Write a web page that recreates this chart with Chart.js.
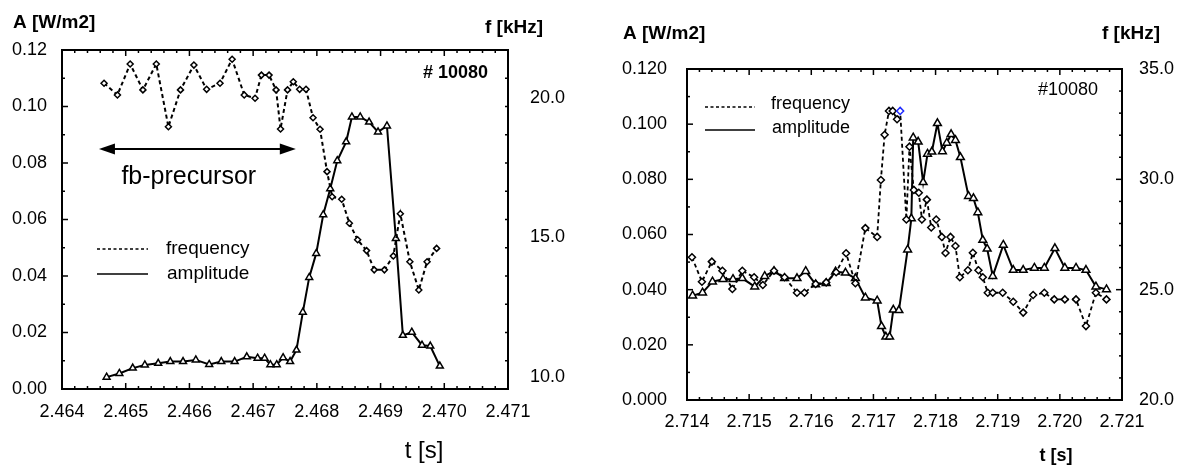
<!DOCTYPE html>
<html>
<head>
<meta charset="utf-8">
<script src="https://cdn.jsdelivr.net/npm/chart.js@4.4.1/dist/chart.umd.min.js"></script>
<style>
    html, body { margin: 0; padding: 0; background: #fff; }
    #wrap { position: relative; width: 1183px; height: 465px; overflow: hidden; }
    .panel { position: absolute; top: 0; height: 465px; }
    #left { left: 0; width: 585px; }
    #right { left: 585px; width: 598px; }
</style>
</head>
<body>
<div id="wrap">
    <div class="panel" id="left"><canvas id="chart-left" width="585" height="465"></canvas></div>
    <div class="panel" id="right"><canvas id="chart-right" width="598" height="465"></canvas></div>
</div>
<script>
/*
/----------------------------------------
/- shot #10080, two time windows
/- left  : fb-precursor, t = 2.464 .. 2.471 s
/- right : t = 2.714 .. 2.721 s
/----------------------------------------
*/

// ---- left window ----
const leftAmpTime = [2.46470, 2.46490, 2.46511, 2.46530, 2.46551, 2.46570, 2.46590, 2.46610, 2.46631, 2.46650,
    2.46671, 2.46690, 2.46707, 2.46718, 2.46727, 2.46737, 2.46747, 2.46758, 2.46768, 2.46778,
    2.46788, 2.46799, 2.46810, 2.46821, 2.46832, 2.46846, 2.46855, 2.46868, 2.46882, 2.46896,
    2.46910, 2.46924, 2.46935, 2.46949, 2.46965, 2.46978, 2.46993];
const leftAmplitude = [0.0042, 0.0055, 0.0074, 0.0085, 0.0091, 0.0097, 0.0097, 0.0103, 0.0087, 0.0097,
    0.0097, 0.0114, 0.0109, 0.0109, 0.0086, 0.0086, 0.0111, 0.0097, 0.0138, 0.0272,
    0.0395, 0.0480, 0.0617, 0.0709, 0.0808, 0.0875, 0.0963, 0.0963, 0.0945, 0.0910,
    0.0931, 0.0533, 0.0190, 0.0201, 0.0155, 0.0152, 0.0081];

const leftFreqTime = [2.46466, 2.46487, 2.46507, 2.46527, 2.46548, 2.46567, 2.46586, 2.46607, 2.46627, 2.46648,
    2.46667, 2.46686, 2.46703, 2.46713, 2.46725, 2.46736, 2.46743, 2.46754, 2.46763, 2.46773,
    2.46783, 2.46794, 2.46805, 2.46816, 2.46824, 2.46839, 2.46851, 2.46864, 2.46878, 2.46890,
    2.46906, 2.46920, 2.46931, 2.46946, 2.46960, 2.46973, 2.46988];
const leftFrequency = [20.53, 20.11, 21.22, 20.29, 21.22, 18.97, 20.29, 21.18, 20.31, 20.53,
    21.39, 20.11, 19.99, 20.82, 20.82, 20.29, 18.89, 20.29, 20.58, 20.31,
    20.31, 19.29, 18.88, 17.36, 16.46, 16.37, 15.51, 14.92, 14.53, 13.84,
    13.84, 14.34, 15.85, 14.13, 13.12, 14.13, 14.61];

const leftFreqTicks = [10, 15, 20];

// ---- right window ----
const rightAmpTime = [2.71409, 2.71425, 2.71441, 2.71458, 2.71474, 2.71489, 2.71509, 2.71525, 2.71540, 2.71557,
    2.71577, 2.71591, 2.71607, 2.71624, 2.71639, 2.71655, 2.71671, 2.71687, 2.71706, 2.71713,
    2.71720, 2.71726, 2.71732, 2.71741, 2.71755, 2.71761, 2.71764, 2.71772, 2.71780, 2.71787,
    2.71794, 2.71803, 2.71811, 2.71818, 2.71825, 2.71832, 2.71840, 2.71853, 2.71861, 2.71868,
    2.71876, 2.71883, 2.71892, 2.71909, 2.71925, 2.71941, 2.71959, 2.71975, 2.71992, 2.72008,
    2.72026, 2.72042, 2.72058, 2.72075];
const rightAmplitude = [0.0378, 0.0389, 0.0429, 0.0438, 0.0438, 0.0441, 0.0411, 0.0449, 0.0467, 0.0441,
    0.0441, 0.0467, 0.0419, 0.0423, 0.0465, 0.0461, 0.0441, 0.0371, 0.0360, 0.0267,
    0.0229, 0.0229, 0.0327, 0.0325, 0.0545, 0.0658, 0.0951, 0.0936, 0.0789, 0.0892,
    0.0900, 0.1003, 0.0901, 0.0932, 0.0963, 0.0942, 0.0880, 0.0739, 0.0731, 0.0680,
    0.0580, 0.0548, 0.0449, 0.0562, 0.0471, 0.0471, 0.0479, 0.0479, 0.0550, 0.0479,
    0.0479, 0.0471, 0.0411, 0.0401];

const rightFreqTime = [2.71408, 2.71424, 2.71440, 2.71457, 2.71473, 2.71489, 2.71508, 2.71522, 2.71540, 2.71557,
    2.71577, 2.71589, 2.71607, 2.71624, 2.71640, 2.71656, 2.71671, 2.71687, 2.71706, 2.71712,
    2.71718, 2.71725, 2.71731, 2.71738, 2.71743, 2.71753, 2.71758, 2.71765, 2.71773, 2.71778,
    2.71786, 2.71793, 2.71801, 2.71810, 2.71816, 2.71824, 2.71832, 2.71839, 2.71852, 2.71860,
    2.71869, 2.71876, 2.71884, 2.71892, 2.71908, 2.71925, 2.71941, 2.71957, 2.71975, 2.71991,
    2.72008, 2.72026, 2.72042, 2.72058, 2.72075];
const rightFrequency = [26.47, 25.36, 26.27, 25.86, 25.03, 25.86, 25.56, 25.21, 25.86, 25.56,
    24.86, 24.86, 25.26, 25.33, 25.79, 26.65, 25.29, 27.79, 27.39, 29.97,
    32.02, 33.10, 33.10, 32.72, 33.10, 28.18, 31.48, 29.52, 29.39, 28.18,
    29.08, 27.82, 28.18, 27.39, 26.66, 27.39, 26.98, 25.56, 25.88, 26.67,
    25.88, 25.56, 24.86, 24.86, 24.86, 24.45, 23.96, 24.76, 24.86, 24.56,
    24.56, 24.56, 23.35, 24.86, 24.56];
const rightMarkedPoint = 24; // the one blue diamond

const FONT = "'Liberation Sans', Arial, sans-serif";

const toPoints = (xs, ys) => xs.map((x, i) => ({ x, y: ys[i] }));

// tick marks pointing into the plot + frame + texts
function drawEdgeTicks(ctx, chart, spec) {
    const scale = chart.scales[spec.scale];
    const area = chart.chartArea;
    const n0 = Math.ceil(scale.min / spec.minor - 1e-6);
    const n1 = Math.floor(scale.max / spec.minor + 1e-6);
    for (let n = n0; n <= n1; n++) {
        const len = spec.every && n % spec.every === 0 ? 6 : 3;
        const p = scale.getPixelForValue(n * spec.minor);
        ctx.beginPath();
        if (spec.edge === "bottom") { ctx.moveTo(p, area.bottom); ctx.lineTo(p, area.bottom - len); }
        if (spec.edge === "top") { ctx.moveTo(p, area.top); ctx.lineTo(p, area.top + len); }
        if (spec.edge === "left") { ctx.moveTo(area.left, p); ctx.lineTo(area.left + len, p); }
        if (spec.edge === "right") { ctx.moveTo(area.right, p); ctx.lineTo(area.right - len, p); }
        ctx.stroke();
    }
}

function text(ctx, str, x, y, font, align) {
    ctx.font = font;
    ctx.textAlign = align || "left";
    ctx.textBaseline = "middle";
    ctx.fillText(str, x, y);
}

function legendLine(ctx, x1, x2, y, dash) {
    ctx.save();
    ctx.lineWidth = 1.5;
    ctx.setLineDash(dash);
    ctx.beginPath();
    ctx.moveTo(x1, y);
    ctx.lineTo(x2, y);
    ctx.stroke();
    ctx.restore();
}

function makeDecor(opts) {
    return {
        id: "decor",
        afterDraw(chart) {
            const ctx = chart.ctx;
            const area = chart.chartArea;
            ctx.save();
            ctx.strokeStyle = "#000";
            ctx.fillStyle = "#000";
            ctx.lineWidth = 1.5;
            opts.ticks.forEach((spec) => drawEdgeTicks(ctx, chart, spec));
            ctx.lineWidth = 2;
            ctx.strokeRect(area.left, area.top, area.right - area.left, area.bottom - area.top);
            opts.draw(ctx, chart);
            ctx.restore();
        },
    };
}

function baseOptions(cfg) {
    const tickFont = { family: FONT, size: 18 };
    return {
        responsive: false,
        animation: false,
        events: [],
        layout: { padding: { top: cfg.top, left: 0, right: 0, bottom: 0 } },
        plugins: { legend: { display: false }, tooltip: { enabled: false } },
        scales: {
            x: {
                type: "linear",
                position: "bottom",
                min: cfg.xMin,
                max: cfg.xMax,
                grid: { display: false },
                border: { display: false },
                ticks: {
                    stepSize: 0.001,
                    autoSkip: false,
                    maxRotation: 0,
                    padding: cfg.xPad,
                    color: "#000",
                    font: tickFont,
                    callback: (v) => v.toFixed(3),
                },
                afterFit: (s) => { s.height = cfg.xHeight; },
            },
            y: {
                position: "left",
                min: 0,
                max: 0.12,
                grid: { display: false },
                border: { display: false },
                ticks: {
                    stepSize: 0.02,
                    padding: cfg.yPad,
                    color: "#000",
                    font: tickFont,
                    callback: (v) => v.toFixed(cfg.yDigits),
                },
                afterFit: (s) => { s.width = cfg.yWidth; },
            },
            y1: {
                position: "right",
                min: cfg.fMin,
                max: cfg.fMax,
                grid: { display: false },
                border: { display: false },
                ticks: {
                    stepSize: 5,
                    padding: cfg.fPad,
                    color: "#000",
                    font: tickFont,
                    callback: (v) => v.toFixed(1),
                },
                afterBuildTicks: cfg.fTicks
                    ? (s) => { s.ticks = cfg.fTicks.map((v) => ({ value: v })); }
                    : undefined,
                afterFit: (s) => { s.width = cfg.fWidth; },
            },
        },
    };
}

// Chart kiri: fb-precursor
const precursorFrom = 2.46458;
const precursorTo = 2.46767;

new Chart(document.getElementById("chart-left"), {
    type: "line",
    data: {
        datasets: [
            {
                label: "frequency",
                yAxisID: "y1",
                data: toPoints(leftFreqTime, leftFrequency),
                borderColor: "#000",
                borderWidth: 2,
                borderDash: [4, 3],
                tension: 0,
                pointStyle: "rectRot",
                pointRadius: 3,
                pointBorderWidth: 1.5,
                pointBorderColor: "#000",
                pointBackgroundColor: "#fff",
            },
            {
                label: "amplitude",
                yAxisID: "y",
                data: toPoints(leftAmpTime, leftAmplitude),
                borderColor: "#000",
                borderWidth: 2,
                tension: 0,
                pointStyle: "triangle",
                pointRadius: 4,
                pointBorderWidth: 1.5,
                pointBorderColor: "#000",
                pointBackgroundColor: "#fff",
            },
        ],
    },
    options: baseOptions({
        top: 50, xMin: 2.464, xMax: 2.471, xHeight: 76, xPad: 4,
        yWidth: 62, yPad: 7, yDigits: 2,
        fMin: 9.57, fMax: 21.72, fWidth: 77, fPad: 14, fTicks: leftFreqTicks,
    }),
    plugins: [makeDecor({
        ticks: [
            { scale: "x", edge: "bottom", minor: 0.0002, every: 5 },
            { scale: "x", edge: "top", minor: 0.0002, every: 5 },
            { scale: "y", edge: "left", minor: 0.01, every: 2 },
            { scale: "y", edge: "right", minor: 0.01 },
        ],
        draw(ctx, chart) {
            const xs = chart.scales.x;
            const ys = chart.scales.y;
            text(ctx, "A [W/m2]", 13, 23, "bold 19px " + FONT);
            text(ctx, "f [kHz]", 485, 28, "bold 19px " + FONT);
            text(ctx, "# 10080", 488, 73, "bold 18px " + FONT, "right");
            text(ctx, "t [s]", 424, 451, "24px " + FONT, "center");

            // double arrow
            const ax1 = xs.getPixelForValue(precursorFrom);
            const ax2 = xs.getPixelForValue(precursorTo);
            const ay = ys.getPixelForValue(0.085);
            ctx.lineWidth = 2;
            ctx.beginPath();
            ctx.moveTo(ax1 + 10, ay);
            ctx.lineTo(ax2 - 10, ay);
            ctx.stroke();
            ctx.beginPath();
            ctx.moveTo(ax1, ay); ctx.lineTo(ax1 + 16, ay - 5.5); ctx.lineTo(ax1 + 16, ay + 5.5);
            ctx.closePath(); ctx.fill();
            ctx.beginPath();
            ctx.moveTo(ax2, ay); ctx.lineTo(ax2 - 16, ay - 5.5); ctx.lineTo(ax2 - 16, ay + 5.5);
            ctx.closePath(); ctx.fill();
            text(ctx, "fb-precursor", xs.getPixelForValue(2.46599), ys.getPixelForValue(0.0751),
                "25px " + FONT, "center");

            // legend
            legendLine(ctx, 97, 148, 249, [3, 2.5]);
            legendLine(ctx, 97, 148, 274, []);
            text(ctx, "frequency", 166, 249, "19px " + FONT);
            text(ctx, "amplitude", 167, 274, "19px " + FONT);
        },
    })],
});

// Chart kanan
new Chart(document.getElementById("chart-right"), {
    type: "line",
    data: {
        datasets: [
            {
                label: "frequency",
                yAxisID: "y1",
                data: toPoints(rightFreqTime, rightFrequency),
                borderColor: "#000",
                borderWidth: 1.8,
                borderDash: [4, 3],
                tension: 0,
                pointStyle: "rectRot",
                pointRadius: 3.5,
                pointBorderWidth: 1.5,
                pointBorderColor: (c) => (c.dataIndex === rightMarkedPoint ? "#1f2bff" : "#000"),
                pointBackgroundColor: "#fff",
            },
            {
                label: "amplitude",
                yAxisID: "y",
                data: toPoints(rightAmpTime, rightAmplitude),
                borderColor: "#000",
                borderWidth: 2,
                tension: 0,
                pointStyle: "triangle",
                pointRadius: 4.5,
                pointBorderWidth: 1.5,
                pointBorderColor: "#000",
                pointBackgroundColor: "#fff",
            },
        ],
    },
    options: baseOptions({
        top: 69, xMin: 2.714, xMax: 2.721, xHeight: 65, xPad: 3,
        yWidth: 102, yPad: 12, yDigits: 3,
        fMin: 20, fMax: 35, fWidth: 61, fPad: 9,
    }),
    plugins: [makeDecor({
        ticks: [
            { scale: "x", edge: "bottom", minor: 0.0002, every: 5 },
            { scale: "x", edge: "top", minor: 0.0002, every: 5 },
            { scale: "y", edge: "left", minor: 0.01, every: 2 },
            { scale: "y1", edge: "right", minor: 1, every: 5 },
        ],
        draw(ctx) {
            text(ctx, "A [W/m2]", 38, 34, "bold 19px " + FONT);
            text(ctx, "f [kHz]", 517, 34, "bold 19px " + FONT);
            text(ctx, "#10080", 513, 90, "18px " + FONT, "right");
            text(ctx, "t [s]", 471, 456, "bold 18px " + FONT, "center");

            legendLine(ctx, 120, 170, 107, [3, 2.5]);
            legendLine(ctx, 120, 170, 130, []);
            text(ctx, "frequency", 186, 104, "18px " + FONT);
            text(ctx, "amplitude", 187, 128, "18px " + FONT);
        },
    })],
});
</script>
</body>
</html>
